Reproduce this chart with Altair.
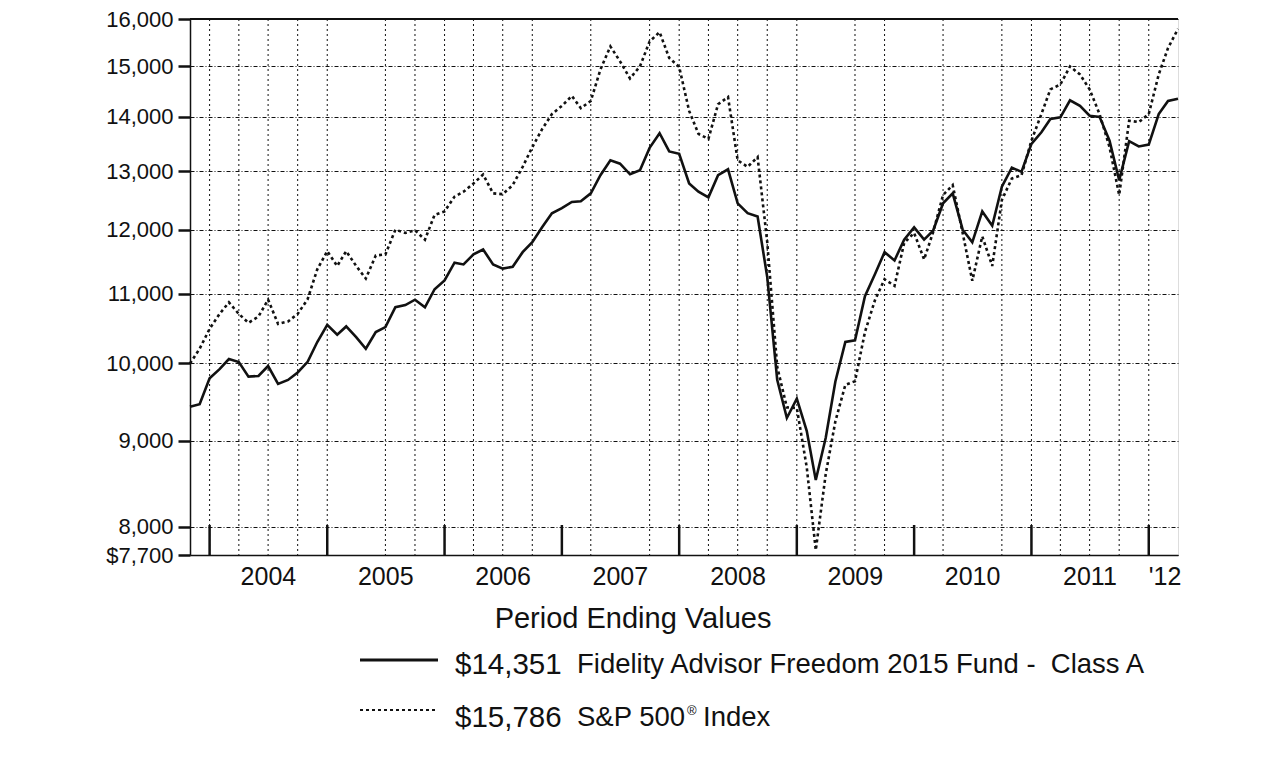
import altair as alt
import pandas as pd

# ---------------- data ----------------
try:
    dates = pd.date_range("2003-10-31", "2012-03-31", freq="ME")
except ValueError:
    dates = pd.date_range("2003-10-31", "2012-03-31", freq="M")
dates = dates.strftime("%Y-%m-%dT00:00:00").tolist()

fund = [9425, 9460, 9800, 9923, 10060, 10020, 9822, 9830, 9965, 9725,
        9777, 9878, 10022, 10297, 10541, 10399, 10518, 10366, 10203, 10437,
        10509, 10797, 10830, 10909, 10797, 11066, 11200, 11474, 11447, 11604,
        11682, 11447, 11381, 11411, 11640, 11798, 12047, 12275, 12360, 12466,
        12476, 12613, 12928, 13193, 13134, 12945, 13016, 13420, 13691, 13355,
        13312, 12784, 12640, 12544, 12928, 13033, 12442, 12275, 12221, 11250,
        9780, 9283, 9530, 9119, 8530, 9035, 9756, 10297, 10321, 10960,
        11293, 11640, 11509, 11840, 12041, 11840, 11986, 12442, 12613, 12002,
        11798, 12305, 12067, 12727, 13064, 12988, 13494, 13709, 13958, 13990,
        14321, 14211, 14021, 14000, 13554, 12841, 13544, 13445, 13480, 14053,
        14307, 14351]

sp500 = [10000, 10203, 10483, 10699, 10869, 10699, 10570, 10661, 10909, 10555,
         10590, 10699, 10917, 11370, 11656, 11423, 11656, 11423, 11228, 11587,
         11604, 12002, 11949, 11993, 11840, 12248, 12305, 12556, 12640, 12784,
         12940, 12613, 12598, 12755, 13077, 13433, 13772, 14053, 14211, 14405,
         14167, 14307, 14934, 15413, 15102, 14753, 14998, 15517, 15715, 15172,
         14987, 14115, 13678, 13586, 14243, 14384, 13193, 13077, 13253, 11800,
         9955, 9418, 9410, 8677, 7752, 8600, 9241, 9712, 9760, 10437,
         10900, 11218, 11117, 11787, 11949, 11525, 11960, 12584, 12755, 11949,
         11194, 11894, 11423, 12498, 12871, 12928, 13554, 14053, 14536, 14633,
         14998, 14833, 14536, 14053, 13433, 12584, 13926, 13900, 14053, 14833,
         15379, 15786]

fund_name = "Fidelity Advisor Freedom 2015 Fund -\u00a0 Class A"
index_name = "S&P 500"

y_ticks = [7700, 8000, 9000, 10000, 11000, 12000, 13000, 14000, 15000, 16000]

grid_dates = ["2003-12-31", "2004-03-31", "2004-06-30", "2004-09-30", "2004-12-31",
              "2005-06-30", "2005-09-30", "2005-12-31", "2006-03-31", "2006-06-30",
              "2006-09-30", "2007-03-31", "2007-09-30", "2007-12-31", "2008-03-31",
              "2008-06-30", "2008-09-30", "2008-12-31", "2009-06-30", "2009-09-30",
              "2010-03-31", "2010-09-30", "2010-12-31", "2011-03-31", "2011-06-30",
              "2011-09-30", "2011-12-31"]
year_tick_dates = ["2003-12-31", "2004-12-31", "2005-12-31", "2006-12-31", "2007-12-31",
                   "2008-12-31", "2009-12-31", "2010-12-31", "2011-12-31"]
year_labels = ["2004", "2005", "2006", "2007", "2008", "2009", "2010", "2011", "'12"]
year_label_dates = ["2004-07-01", "2005-07-01", "2006-07-01", "2007-07-01", "2008-07-01",
                    "2009-07-01", "2010-07-01", "2011-07-01", "2012-02-20"]

T = "T00:00:00"
df_fund = pd.DataFrame({"date": dates, "value": fund})
df_sp = pd.DataFrame({"date": dates, "value": sp500})
df_grid = pd.DataFrame({"date": [d + T for d in grid_dates]})
df_yt = pd.DataFrame({"date": [d + T for d in year_tick_dates]})
df_yl = pd.DataFrame({"date": [d + T for d in year_label_dates], "label": year_labels})

# ---------------- layout ----------------
TOP = 11                 # plot top at page y = 8 + TOP
H = 547 - TOP            # plot bottom stays at page y 555
W = 988
BASE = H - 541           # offset so texts below keep their page position
FONT = "Liberation Sans"
INK = "#111111"

xscale = alt.Scale(domain=[alt.DateTime(year=2003, month=10, date=31),
                           alt.DateTime(year=2012, month=3, date=31)], nice=False)
yscale = alt.Scale(type="log", domain=[7700, 16000], nice=False, zero=False)

fund_line = alt.Chart(df_fund).mark_line(color=INK, strokeWidth=2.6).encode(
    x=alt.X("date:T", scale=xscale,
            axis=alt.Axis(labels=False, ticks=False, grid=False, title=None,
                          domain=True, domainColor=INK, domainWidth=1.5)),
    y=alt.Y("value:Q", scale=yscale,
            axis=alt.Axis(values=y_ticks, title=None,
                          labelExpr="datum.value == 7700 ? '$7,700' : format(datum.value, ',')",
                          grid=True, gridColor=INK, gridWidth=1, gridDash=[4, 2, 1, 2],
                          gridOpacity=1,
                          tickSize=12, tickWidth=2.5, tickColor=INK,
                          domain=True, domainColor=INK, domainWidth=1.5,
                          labelFont=FONT, labelFontSize=22, labelColor=INK,
                          labelPadding=5))
)

sp_line = alt.Chart(df_sp).mark_line(color=INK, strokeWidth=2.6, strokeDash=[3, 3]).encode(
    x=alt.X("date:T", scale=xscale),
    y=alt.Y("value:Q", scale=yscale)
)

vgrid = alt.Chart(df_grid).mark_rule(color=INK, strokeWidth=1, strokeDash=[2, 3]).encode(
    x=alt.X("date:T", scale=xscale)
)

top_border = alt.Chart(df_grid).mark_rule(color=INK, strokeWidth=1.5).encode(
    x=alt.value(0), x2=alt.value(W), y=alt.value(0)
)

year_ticks = alt.Chart(df_yt).mark_rule(color=INK, strokeWidth=2.5).encode(
    x=alt.X("date:T", scale=xscale),
    y=alt.value(H - 30), y2=alt.value(H)
)

year_text = alt.Chart(df_yl).mark_text(font=FONT, fontSize=25, color=INK,
                                       align="center", baseline="middle").encode(
    x=alt.X("date:T", scale=xscale),
    y=alt.value(H + 22),
    text="label:N"
)

one = pd.DataFrame({"k": [0]})


def txt(s, x, y, size, align="left"):
    return alt.Chart(one).mark_text(font=FONT, fontSize=size, color=INK, align=align,
                                    baseline="middle", text=s).encode(
        x=alt.value(x), y=alt.value(y + BASE))


title = txt("Period Ending Values", 443, 605, 29, "center")

leg1_line = alt.Chart(one).mark_rule(color=INK, strokeWidth=3).encode(
    x=alt.value(170), x2=alt.value(248), y=alt.value(646 + BASE))
leg2_line = alt.Chart(one).mark_rule(color=INK, strokeWidth=2, strokeDash=[3, 3]).encode(
    x=alt.value(170), x2=alt.value(246), y=alt.value(696 + BASE))

leg1_val = txt(f"${fund[-1]:,}", 265, 651, 29.5)
leg1_name = txt(fund_name, 387, 651, 27.5)
leg2_val = txt(f"${sp500[-1]:,}", 265, 704, 29.5)
leg2_name = txt(index_name, 387, 704, 27.5)
leg2_reg = txt("\u00ae", 497, 697, 13)
leg2_idx = txt("Index", 513, 704, 27.5)

chart = alt.layer(
    fund_line, sp_line, vgrid, top_border, year_ticks, year_text, title,
    leg1_line, leg2_line, leg1_val, leg1_name, leg2_val, leg2_name, leg2_reg, leg2_idx
).properties(
    width=W, height=H,
    autosize=alt.AutoSizeParams(type="none"),
    padding={"left": 182, "top": TOP, "right": 60, "bottom": 200},
).configure_view(stroke=None).configure_axisX(grid=False).configure(background="white")

chart.save("out.html", embed_options={"renderer": "svg", "actions": False})
